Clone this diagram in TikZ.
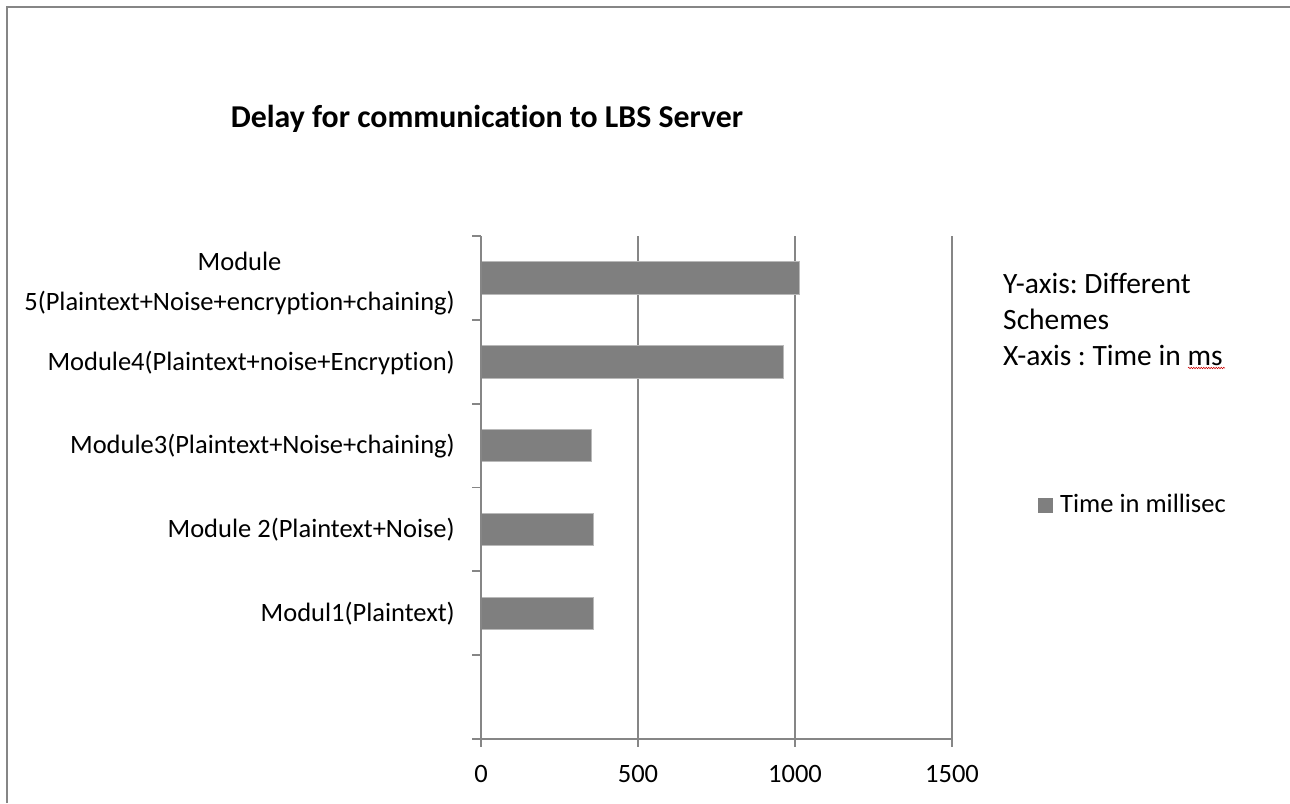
\documentclass[tikz,border=0pt]{standalone}
\usepackage{fontspec}
\setmainfont{Carlito}[Ligatures=NoCommon]
\usetikzlibrary{decorations.pathmorphing}

\definecolor{axisgray}{HTML}{868686}
\definecolor{barfill}{HTML}{7F7F7F}

\frenchspacing

\begin{document}
\begin{tikzpicture}[x=1pt,y=-1pt,
    axisline/.style={draw=axisgray,line width=1.8pt},
    barbox/.style={fill=barfill,draw=barfill!55!white,line width=0.8pt},
    catlabel/.style={font=\fontsize{26.5}{40}\selectfont,inner sep=0pt,anchor=base east},
    ticklabel/.style={font=\fontsize{26.5}{40}\selectfont,inner sep=0pt,anchor=base}]
  \useasboundingbox (0,0) rectangle (1290,803);

  % chart frame (runs off the page right and bottom)
  \draw[axisline] (7,803) -- (7,6.7) -- (1290,6.7);

  % title
  \node[font=\bfseries\fontsize{31.8}{40}\selectfont,inner sep=0pt,anchor=base]
    (title) at (487,127.3) {Delay for communication to LBS Server};

  % grid lines at 500, 1000, 1500 ms
  \foreach \gx in {638,795,952}
    \draw[axisline] (\gx,236) -- (\gx,739);

  % bars: slot k, time in ms
  \foreach \k/\val in {1/357,2/359,3/350,4/963,5/1013}
    \filldraw[barbox] (481,{739-83.83*(\k+0.5)-16.2})
      rectangle ({481+0.314*\val},{739-83.83*(\k+0.5)+16.2});

  % axes and ticks
  \draw[axisline] (481,236) -- (481,739) -- (952,739);
  \foreach \k in {0,...,6}
    \draw[axisline] (472,{739-83.83*\k}) -- (481,{739-83.83*\k});
  \foreach \gx in {481,638,795,952}
    \draw[axisline] (\gx,739) -- (\gx,746.7);

  % category labels
  \node[catlabel] (mod1) at (455,621.6) {Modul1(Plaintext)};
  \node[catlabel] (mod2) at (455,537.8) {Module 2(Plaintext+Noise)};
  \node[catlabel] (mod3) at (455,453.9) {Module3(Plaintext+Noise+chaining)};
  \node[catlabel] (mod4) at (455,370.1) {Module4(Plaintext+noise+Encryption)};
  \node[catlabel,align=center,anchor=east] (mod5) at (455,284)
    {Module\\5(Plaintext+Noise+encryption+chaining)};

  % value labels
  \node[ticklabel] (t0) at (481,782.3) {0};
  \node[ticklabel] (t500) at (638,782.3) {500};
  \node[ticklabel] (t1000) at (795,782.3) {1000};
  \node[ticklabel] (t1500) at (952,782.3) {1500};

  % axis note (base = last line)
  \node[font=\fontsize{29.5}{36}\selectfont,inner sep=0pt,align=left,anchor=base west]
    (note) at (1003,365) {Y-axis: Different\\Schemes\\X-axis : Time in ms};
  \draw[red!80!black,line width=0.5pt,decorate,
    decoration={snake,amplitude=0.8pt,segment length=2.5pt}]
    (1188,368) -- (1225,368);

  % legend
  \fill[barfill] (1038,498) rectangle (1052.7,512.7) coordinate (key);
  \node[font=\fontsize{26.5}{36}\selectfont,inner sep=0pt,anchor=base west]
    (legend) at (1060,512.7) {Time in millisec};
\end{tikzpicture}
\end{document}
